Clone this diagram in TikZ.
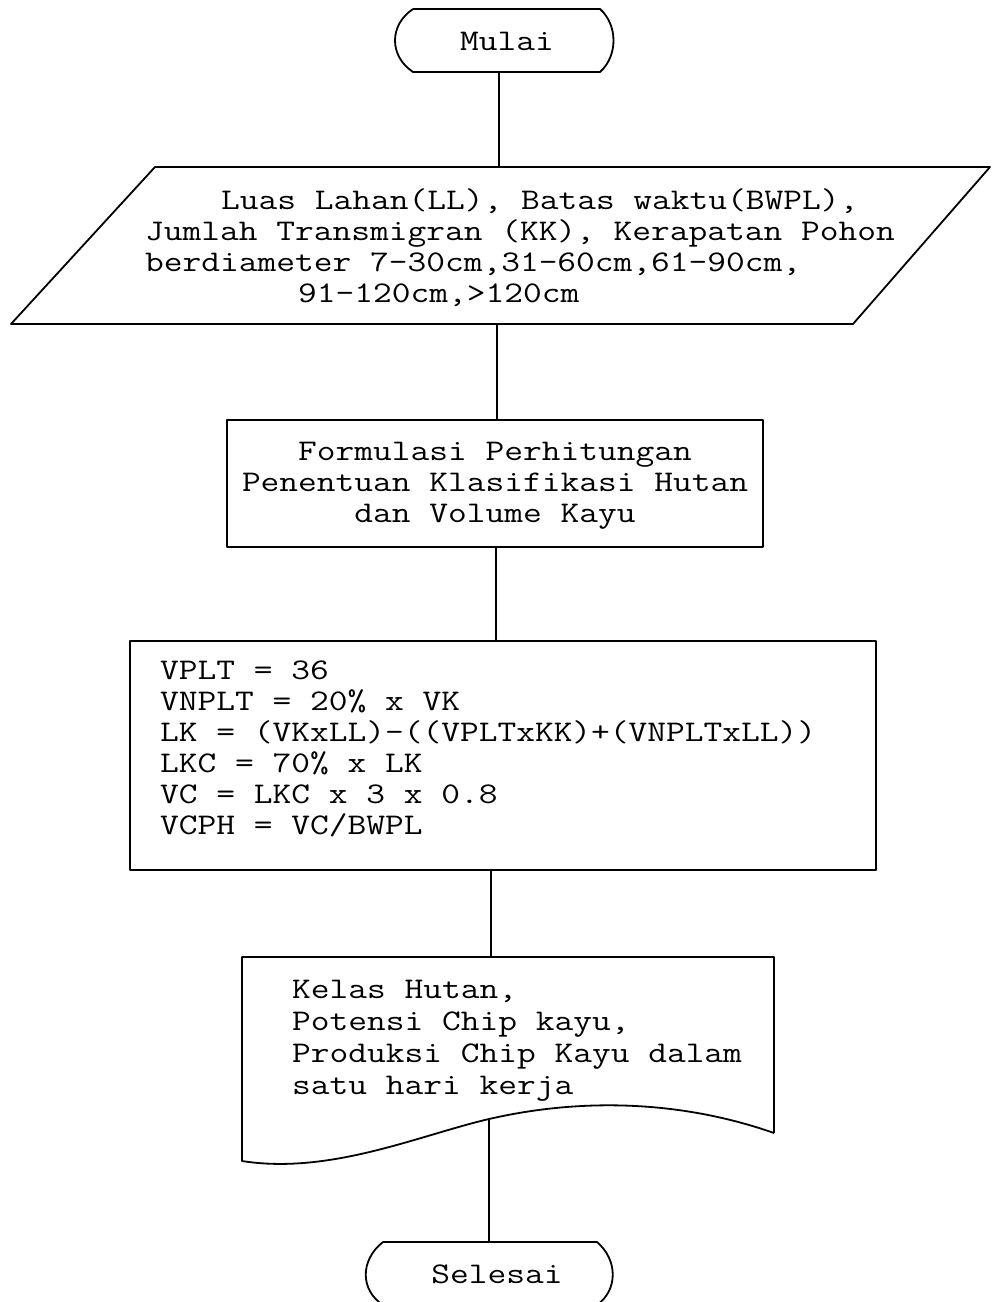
\documentclass[tikz,border=0pt]{standalone}
\usepackage{fontspec}
% typewriter lines widened to the usual 0.6em courier pitch
\newcommand{\cw}[1]{\scalebox{1.213}[1]{#1}}
\begin{document}
\begin{tikzpicture}[x=1pt,y=-1pt,line join=round,
  flow/.style={draw=black,line width=1.8pt},
  link/.style={draw=black,line width=1.6pt},
  txt/.style={font={\ttfamily\fontsize{30}{32}\selectfont},inner sep=0pt,anchor=base west},
  ctr/.style={txt,anchor=base}]
\useasboundingbox (0,0) rectangle (992,1302);

% start terminator
\draw[flow] (413,9) -- (600,9) .. controls (618,25) and (618,56) .. (600,72)
  -- (413,72) .. controls (389,56) and (389,25) .. (413,9);
\node[ctr] (mulai) at (507,50) {\cw{Mulai}};
\coordinate (mulaiB) at (499,72);

% input data (parallelogram)
\draw[flow] (155,167) -- (990,167) -- (853,324) -- (11,324) -- cycle;
\coordinate (inT) at (499,167);
\coordinate (inB) at (497,324);
\node[txt] (in1) at (221,209) {\cw{Luas Lahan(LL), Batas waktu(BWPL),}};
\node[txt] (in2) at (145,240) {\cw{Jumlah Transmigran (KK), Kerapatan Pohon}};
\node[txt] (in3) at (145,271) {\cw{berdiameter 7-30cm,31-60cm,61-90cm,}};
\node[txt] (in4) at (298,302) {\cw{91-120cm,>120cm}};

% formulation process
\draw[flow] (227,420) rectangle (763,547);
\coordinate (frT) at (497,420);
\coordinate (frB) at (496,547);
\node[ctr] (fr1) at (495,460) {\cw{Formulasi Perhitungan}};
\node[ctr] (fr2) at (495,491) {\cw{Penentuan Klasifikasi Hutan}};
\node[ctr] (fr3) at (495,522) {\cw{dan Volume Kayu}};

% computation process
\draw[flow] (130,641) rectangle (876,870);
\coordinate (cpT) at (496,641);
\coordinate (cpB) at (491,870);
\node[txt] (cp1) at (160,679) {\cw{VPLT = 36}};
\node[txt] (cp2) at (160,710) {\cw{VNPLT = 20\% x VK}};
\node[txt] (cp3) at (160,741) {\cw{LK = (VKxLL)-((VPLTxKK)+(VNPLTxLL))}};
\node[txt] (cp4) at (160,772) {\cw{LKC = 70\% x LK}};
\node[txt] (cp5) at (160,803) {\cw{VC = LKC x 3 x 0.8}};
\node[txt] (cp6) at (160,834) {\cw{VCPH = VC/BWPL}};

% output document
\draw[flow] (774,1133) -- (774,957) -- (242,957) -- (242,1161)
  .. controls (330,1175) and (420,1135) .. (489,1119)
  .. controls (580,1098) and (680,1100) .. (774,1133);
\coordinate (docT) at (491,957);
\coordinate (docB) at (489,1119);
\node[txt] (dc1) at (292,998) {\cw{Kelas Hutan,}};
\node[txt] (dc2) at (292,1030) {\cw{Potensi Chip kayu,}};
\node[txt] (dc3) at (292,1062) {\cw{Produksi Chip Kayu dalam}};
\node[txt] (dc4) at (292,1094) {\cw{satu hari kerja}};

% end terminator
\draw[flow] (383,1242) -- (597,1242) .. controls (618,1260) and (618,1290) .. (597,1305)
  -- (383,1305) .. controls (360,1290) and (360,1260) .. (383,1242);
\node[ctr] (selesai) at (497,1283) {\cw{Selesai}};
\coordinate (selT) at (489,1242);

% connectors
\draw[link] (mulaiB) -- (inT);
\draw[link] (inB) -- (frT);
\draw[link] (frB) -- (cpT);
\draw[link] (cpB) -- (docT);
\draw[link] (docB) -- (selT);
\end{tikzpicture}
\end{document}
